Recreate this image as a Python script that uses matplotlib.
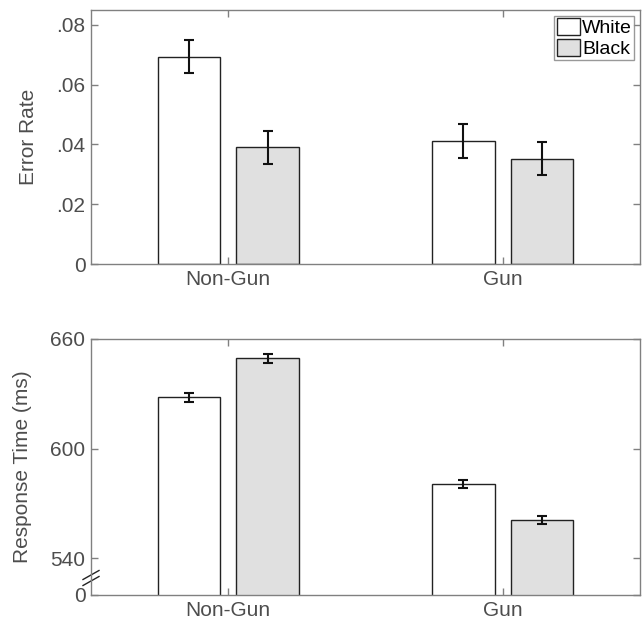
import matplotlib.pyplot as plt
import numpy as np

plt.rcParams['font.family'] = ['Liberation Sans', 'DejaVu Sans']

# Data
conditions = ['Non-Gun', 'Gun']
groups = ['White', 'Black']
err_white = [0.0694, 0.0411]
err_black = [0.0391, 0.0352]
err_white_se = [0.0055, 0.0056]
err_black_se = [0.0055, 0.0055]
rt_white = [628.1, 580.5]
rt_black = [649.4, 561.0]
rt_white_se = [2.4, 2.2]
rt_black_se = [2.3, 2.2]

fig = plt.figure(figsize=(6.43, 6.21), dpi=100, facecolor='white')
W, H = 643, 621
ax1 = fig.add_axes([91 / W, 1 - 264 / H, (640 - 91) / W, (264 - 10) / H])
ax2 = fig.add_axes([91 / W, 1 - 595 / H, (640 - 91) / W, (595 - 339) / H])

x = np.arange(1, len(conditions) + 1)
off = 0.143
bw = 0.229
gray = '#808080'
txt = '#4d4d4d'


def draw(ax, wv, bv, wse, bse):
    ax.bar(x - off, wv, bw, color='white', edgecolor='#222222', linewidth=1, label=groups[0], zorder=2)
    ax.bar(x + off, bv, bw, color='#e0e0e0', edgecolor='#222222', linewidth=1, label=groups[1], zorder=2)
    ax.errorbar(x - off, wv, yerr=wse, fmt='none', ecolor='#111111', elinewidth=1.5, capsize=3.3, capthick=1.5, zorder=3)
    ax.errorbar(x + off, bv, yerr=bse, fmt='none', ecolor='#111111', elinewidth=1.5, capsize=3.3, capthick=1.5, zorder=3)
    ax.set_xlim(0.5, 2.5)
    ax.set_xticks(x)
    ax.set_xticklabels(conditions)
    for s in ax.spines.values():
        s.set_color(gray)
        s.set_linewidth(1)
    ax.tick_params(direction='in', length=5, width=1, color=gray, labelcolor=txt,
                   labelsize=15, top=True, right=True, pad=4)


draw(ax1, err_white, err_black, err_white_se, err_black_se)
ax1.set_ylim(0, 0.085)
ax1.set_yticks([0, 0.02, 0.04, 0.06, 0.08])
ax1.set_yticklabels(['0', '.02', '.04', '.06', '.08'])
ax1.set_ylabel('Error Rate', fontsize=15, color=txt)
ax1.yaxis.set_label_coords(-0.097, 0.5)
leg = ax1.legend(loc='upper right', fontsize=14, frameon=True, fancybox=False,
                 handlelength=1.2, handleheight=0.95, handletextpad=0.1,
                 borderpad=0.12, labelspacing=0.08, borderaxespad=0.3)
leg.get_frame().set_edgecolor(gray)
leg.get_frame().set_linewidth(1)

draw(ax2, rt_white, rt_black, rt_white_se, rt_black_se)
ax2.set_ylim(520, 660)
ax2.set_yticks([520, 540, 600, 660])
ax2.set_yticklabels(['0', '540', '600', '660'])
ax2.set_ylabel('Response Time (ms)', fontsize=15, color=txt)
ax2.yaxis.set_label_coords(-0.108, 0.5)

# axis break marks
for dy in (-3, 3):
    yc = (595 - 578 + dy) / 256
    ax2.plot([-8 / 549, 8 / 549], [yc - 4.5 / 256, yc + 4.5 / 256], transform=ax2.transAxes,
             color='#222222', linewidth=1, clip_on=False)

fig.savefig('out.png', dpi=100)
